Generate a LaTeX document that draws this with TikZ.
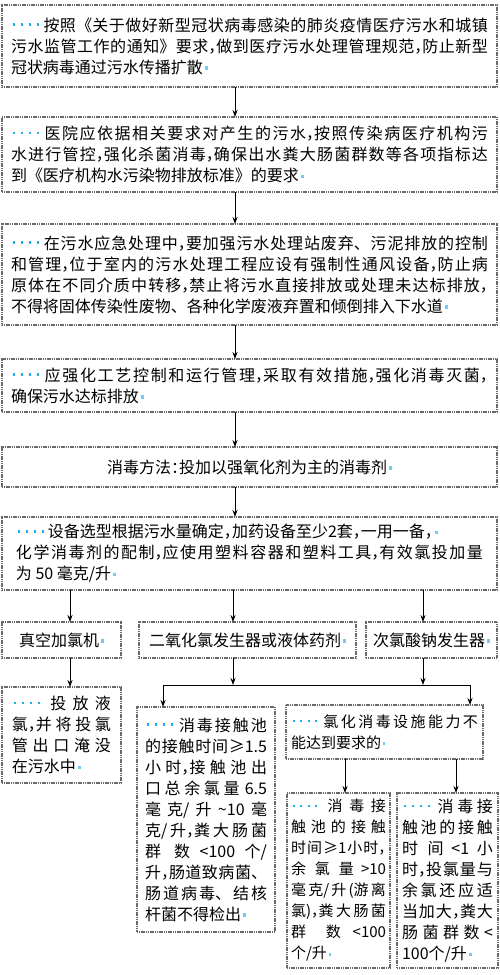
\documentclass[tikz,border=0pt]{standalone}
\usepackage{fontspec}
\usetikzlibrary{arrows.meta}
\setmainfont{Noto Sans CJK SC}
\newfontfamily\haltfont[RawFeature=+halt]{Noto Sans CJK SC}
\XeTeXlinebreaklocale "zh"
\XeTeXlinebreakskip=0pt plus 4pt
\XeTeXlinebreakpenalty=10000
\setlength\parindent{0pt}
\tolerance=10000 \hbadness=10000 \hfuzz=20pt
\definecolor{dotc}{RGB}{25,175,240}
\definecolor{pec}{RGB}{110,205,245}
\definecolor{bordc}{RGB}{105,105,105}
\newcommand\dotq{\textcolor{dotc}{\rule[0.32em]{0.16em}{0.16em}}}
\newcommand\dd{\hbox to 2em{\hskip0.1em\dotq\hskip0.34em\dotq\hskip0.34em\dotq\hskip0.34em\dotq\hfil}\hskip0pt plus 4pt}
\newcommand\pe{\kern0.12em\textcolor{pec}{\rule[0.22em]{0.17em}{0.2em}}}
\newcommand\cm{{\haltfont ，}}
\newcommand\hcolon{{\haltfont ：}}
\newcommand\bx[9][]{%
  \pgfmathsetmacro\myBW{#5-#3}%
  \pgfmathsetmacro\myBH{#6-#4}%
  \pgfmathsetmacro\myTW{#5-#3-2*#7}%
  \node[box,align=#8,inner xsep=#7pt,text width=\myTW pt,minimum width=\myBW pt,minimum height=\myBH pt,#1] (#2) at ({(#3+#5)/2},{(#4+#6)/2}) {#9};}
\tikzset{
  box/.style={draw=bordc,line width=1.2pt,dash pattern=on 1.2pt off 0.6pt,inner ysep=2pt,outer sep=0pt,fill=white,font=\fontsize{16}{21}\selectfont},
  arr/.style={draw=black,line width=0.9pt,-{Stealth[length=7pt,width=5pt]}},
  conn/.style={draw=black,line width=0.9pt}
}
\begin{document}
\begin{tikzpicture}[x=1pt,y=-1pt]
\useasboundingbox (0,0) rectangle (500,975);
\bx{b1}{2}{5}{497}{87}{9}{justify}{\dd 按照《关于做好新型冠状病毒感染的肺炎疫情医疗污水和城镇\break 污水监管工作的通知》要求\cm 做到医疗污水处理管理规范\cm 防止新型\break 冠状病毒通过污水传播扩散\pe}
\bx{b2}{2}{117}{497}{192}{9}{justify}{\dd 医院应依据相关要求对产生的污水\cm 按照传染病医疗机构污\break 水进行管控\cm 强化杀菌消毒\cm 确保出水粪大肠菌群数等各项指标达\break 到《医疗机构水污染物排放标准》的要求\pe}
\bx{b3}{2}{224}{497}{325}{9}{justify}{\dd 在污水应急处理中\cm 要加强污水处理站废弃、污泥排放的控制\break 和管理\cm 位于室内的污水处理工程应设有强制性通风设备\cm 防止病\break 原体在不同介质中转移\cm 禁止将污水直接排放或处理未达标排放\cm\break 不得将固体传染性废物、各种化学废液弃置和倾倒排入下水道\pe}
\bx{b4}{2}{359}{497}{412}{9}{justify}{\dd 应强化工艺控制和运行管理\cm 采取有效措施\cm 强化消毒灭菌\cm\break 确保污水达标排放\pe}
\bx{b5}{2}{447}{497}{487}{9}{flush center}{消毒方法\hcolon 投加以强氧化剂为主的消毒剂\pe}
\bx{b6}{2}{517}{497}{590}{14}{justify}{\dd 设备选型根据污水量确定\cm 加药设备至少2套\cm 一用一备\cm\pe\hfill\break 化学消毒剂的配制\cm 应使用塑料容器和塑料工具\cm 有效氯投加量\break 为~50~毫克/升\pe}
\bx{nA}{2}{622}{121}{658}{4}{flush center}{真空加氯机\pe}
\bx{nB}{139}{622}{356}{658}{4}{flush center}{二氧化氯发生器或液体药剂\pe}
\bx{nC}{366}{622}{497}{658}{4}{flush center}{次氯酸钠发生器\pe}
\bx{nA2}{2}{687}{121}{783}{10}{justify}{\dd 投放液\break 氯\cm 并将投氯\break 管出口淹没\break 在污水中\pe}
\bx{nB2}{137}{707}{275}{932}{8}{justify}{\dd 消毒接触池\break 的接触时间≥1.5\break 小时\cm 接触池出\break 口总余氯量~6.5\break 毫克/升~\textasciitilde 10~毫\break 克/升\cm 粪大肠菌\break 群数~<100~个/\break 升\cm 肠道致病菌、\break 肠道病毒、结核\break 杆菌不得检出\pe}
\bx[font=\fontsize{15}{21}\selectfont]{nC2}{286}{705}{483}{759}{5}{justify}{\dd 氯化消毒设施能力不\break 能达到要求的\pe}
\bx[font=\fontsize{15}{21}\selectfont]{nD}{287}{793}{390}{968}{4}{justify}{\dd 消毒接\break 触池的接触\break 时间≥1小时\cm\break 余氯量~>10\break 毫克/升(游离\break 氯)\cm 粪大肠菌\break 群数~<100\break 个/升\pe}
\bx{nE}{397}{793}{498}{968}{5}{justify}{\dd 消毒接\break 触池的接触\break 时间~<1~小\break 时\cm 投氯量与\break 余氯还应适\break 当加大\cm 粪大\break 肠菌群数<\break 100个/升\pe}
% connectors
\coordinate (mx) at (235,0);
\foreach \a/\b in {b1/b2,b2/b3,b3/b4,b4/b5,b5/b6}
  \draw[arr] (\a.south -| mx) -- (\b.north -| mx);
\coordinate (xA) at (70,0);
\coordinate (xB) at (233,0);
\coordinate (xC) at (423,0);
\draw[arr] (b6.south -| xA) -- (nA.north -| xA);
\draw[arr] (b6.south -| xB) -- (nB.north -| xB);
\draw[arr] (b6.south -| xC) -- (nC.north -| xC);
\draw[arr] (nA.south -| xA) -- (nA2.north -| xA);
\coordinate (jl) at (163,685);
\coordinate (jr) at (470,685);
\draw[conn] (jl) -- (jr);
\draw[arr] (nB.south -| xB) -- (xB |- jl);
\draw[arr] (nC.south -| xC) -- (xC |- jl);
\draw[arr] (jl) -- (nB2.north -| jl);
\draw[arr] (jr) -- (nC2.north -| jr);
\coordinate (xD) at (345,0);
\coordinate (xE) at (456,0);
\draw[arr] (nC2.south -| xD) -- (nD.north -| xD);
\draw[arr] (nC2.south -| xE) -- (nE.north -| xE);
\end{tikzpicture}
\end{document}
